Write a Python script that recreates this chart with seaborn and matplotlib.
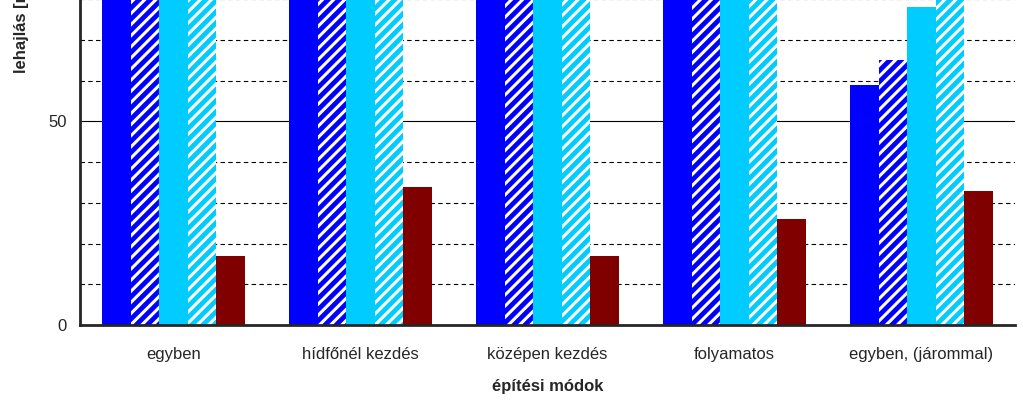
import numpy as np
import pandas as pd
import seaborn as sns
import matplotlib.pyplot as plt

# data (first four groups exceed the visible range of the cropped reference)
groups = ['egyben', 'hídfőnél kezdés', 'középen kezdés', 'folyamatos', 'egyben, (járommal)']
series = ['s1', 's2', 's3', 's4', 's5']
s1 = [100, 100, 100, 100, 59]
s2 = [100, 100, 100, 100, 65]
s3 = [100, 100, 100, 100, 78]
s4 = [100, 100, 100, 100, 100]
s5 = [17, 34, 17, 26, 33]

df = pd.DataFrame({
    'group': groups * 5,
    'series': np.repeat(series, len(groups)),
    'value': s1 + s2 + s3 + s4 + s5,
})

colors = ['#0000FF', '#0000FF', '#00CCFF', '#00CCFF', '#800000']
hatched = [False, True, False, True, False]

sns.set_style('white')
plt.rcParams['font.family'] = ['Liberation Sans', 'DejaVu Sans']
plt.rcParams['hatch.linewidth'] = 2.2

fig = plt.figure(figsize=(10.23, 4.05), dpi=100)
ax = fig.add_axes([80 / 1023, 1 - 325 / 405, 935 / 1023, 325 / 405 + 0.01])

sns.barplot(data=df, x='group', y='value', hue='series', palette=colors,
            width=0.765, gap=0, legend=False, ax=ax, saturation=1)

for i, cont in enumerate(ax.containers):
    for bar in cont:
        bar.set_linewidth(0)
        if hatched[i]:
            bar.set_hatch('///')
            bar.set_edgecolor('white')

ax.set_ylim(0, 80.8)
ax.set_xlim(-0.5, 4.5)
ax.set_yticks([0, 50])
ax.set_yticks(np.arange(0, 81, 10), minor=True)
for y in np.arange(10, 81, 10):
    if y % 50:
        ax.axhline(y, color='black', lw=0.8, ls=(0, (4, 3)), zorder=0)
ax.axhline(50, color='black', lw=0.8, zorder=0)

ax.set_xticks(np.arange(-0.5, 5, 1), minor=True)
ax.tick_params(axis='x', which='major', length=0, pad=16, labelsize=12)
ax.tick_params(axis='x', which='minor', length=6, width=1.5, direction='out')
ax.tick_params(axis='y', which='major', length=6, width=1.5, labelsize=12)
ax.tick_params(axis='y', which='minor', length=3, width=1)
ax.set_xticks(range(5))
ax.set_xticklabels(groups)

for side in ['top', 'right']:
    ax.spines[side].set_visible(False)
ax.spines['left'].set_linewidth(2)
ax.spines['bottom'].set_linewidth(2)

ax.set_xlabel('építési módok', fontsize=12, fontweight='bold', labelpad=12)
ax.set_ylabel('')
# reference is cropped, so the y label is cut at the top edge
fig.text(22 / 1023, 1 - 20 / 405, 'lehajlás [mm]', rotation=90, fontsize=12,
         fontweight='bold', ha='center', va='center')

fig.savefig('out.png', dpi=100)
